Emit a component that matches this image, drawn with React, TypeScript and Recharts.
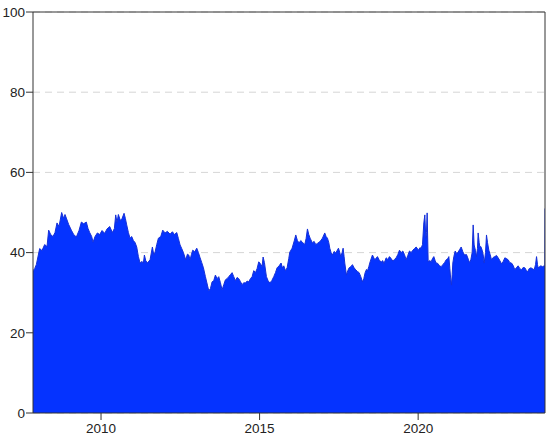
import { AreaChart, Area, XAxis, YAxis, CartesianGrid, ReferenceLine } from 'recharts';

// decimal years and values
const dates = [
  2007.855, 2007.908, 2007.96, 2008.065, 2008.139, 2008.223, 2008.297, 2008.349, 2008.412, 2008.486,
  2008.549, 2008.612, 2008.675, 2008.759, 2008.822, 2008.864, 2008.906, 2008.98, 2009.064, 2009.138,
  2009.222, 2009.306, 2009.38, 2009.453, 2009.537, 2009.59, 2009.643, 2009.706, 2009.748, 2009.811,
  2009.884, 2009.958, 2010.032, 2010.116, 2010.189, 2010.274, 2010.358, 2010.421, 2010.463, 2010.505,
  2010.547, 2010.61, 2010.663, 2010.726, 2010.768, 2010.81, 2010.863, 2010.915, 2010.968, 2011.021,
  2011.073, 2011.126, 2011.178, 2011.231, 2011.294, 2011.336, 2011.368, 2011.41, 2011.462, 2011.546,
  2011.62, 2011.662, 2011.704, 2011.757, 2011.809, 2011.883, 2011.946, 2012.02, 2012.093, 2012.177,
  2012.251, 2012.314, 2012.388, 2012.44, 2012.493, 2012.545, 2012.598, 2012.671, 2012.724, 2012.766,
  2012.808, 2012.85, 2012.892, 2012.955, 2013.019, 2013.071, 2013.124, 2013.176, 2013.229, 2013.292,
  2013.355, 2013.397, 2013.449, 2013.502, 2013.554, 2013.607, 2013.659, 2013.712, 2013.765, 2013.817,
  2013.87, 2013.922, 2013.975, 2014.027, 2014.08, 2014.133, 2014.185, 2014.238, 2014.29, 2014.343,
  2014.395, 2014.448, 2014.501, 2014.553, 2014.606, 2014.658, 2014.711, 2014.764, 2014.816, 2014.869,
  2014.921, 2014.974, 2015.026, 2015.079, 2015.111, 2015.153, 2015.216, 2015.268, 2015.321, 2015.384,
  2015.447, 2015.5, 2015.552, 2015.615, 2015.678, 2015.72, 2015.763, 2015.815, 2015.868, 2015.92,
  2015.952, 2016.026, 2016.099, 2016.141, 2016.193, 2016.246, 2016.298, 2016.351, 2016.424, 2016.467,
  2016.509, 2016.551, 2016.593, 2016.666, 2016.719, 2016.771, 2016.824, 2016.877, 2016.929, 2016.982,
  2017.055, 2017.097, 2017.14, 2017.182, 2017.213, 2017.255, 2017.297, 2017.35, 2017.402, 2017.487,
  2017.529, 2017.56, 2017.602, 2017.634, 2017.665, 2017.686, 2017.739, 2017.781, 2017.823, 2017.876,
  2017.928, 2017.981, 2018.033, 2018.086, 2018.139, 2018.191, 2018.244, 2018.286, 2018.328, 2018.37,
  2018.401, 2018.444, 2018.486, 2018.559, 2018.633, 2018.717, 2018.78, 2018.843, 2018.886, 2018.917,
  2018.959, 2018.991, 2019.043, 2019.096, 2019.149, 2019.201, 2019.254, 2019.306, 2019.359, 2019.411,
  2019.464, 2019.516, 2019.569, 2019.622, 2019.674, 2019.727, 2019.779, 2019.832, 2019.885, 2019.937,
  2020.011, 2020.053, 2020.095, 2020.137, 2020.179, 2020.211, 2020.242, 2020.263, 2020.284, 2020.316,
  2020.368, 2020.41, 2020.452, 2020.494, 2020.536, 2020.568, 2020.621, 2020.673, 2020.726, 2020.778,
  2020.831, 2020.884, 2020.936, 2020.968, 2021.0, 2021.021, 2021.052, 2021.073, 2021.094, 2021.126,
  2021.168, 2021.21, 2021.252, 2021.304, 2021.357, 2021.409, 2021.462, 2021.525, 2021.588, 2021.619,
  2021.661, 2021.703, 2021.735, 2021.766, 2021.808, 2021.84, 2021.871, 2021.892, 2021.924, 2021.945,
  2021.977, 2022.019, 2022.05, 2022.082, 2022.124, 2022.155, 2022.187, 2022.229, 2022.271, 2022.313,
  2022.366, 2022.418, 2022.471, 2022.523, 2022.576, 2022.628, 2022.681, 2022.734, 2022.786, 2022.839,
  2022.891, 2022.944, 2022.996, 2023.049, 2023.102, 2023.154, 2023.207, 2023.259, 2023.312, 2023.365,
  2023.417, 2023.449, 2023.501, 2023.554, 2023.606, 2023.659, 2023.701, 2023.733, 2023.764, 2023.785,
  2023.827, 2023.869, 2023.922, 2023.975, 2023.995, 2024.0,
];

const values = [
  35.5, 36, 37, 41, 40.5, 42, 41.5, 45.6, 44.5, 44,
  45, 47.4, 46.5, 50, 48.5, 49.5, 48.6, 47, 45.6, 44.5,
  43.9, 45.5, 47.6, 47.2, 47.6, 46, 45, 44, 42.6, 44,
  44.9, 44.5, 45.5, 44.8, 45.9, 46.5, 45, 46, 49.4, 47.5,
  49.5, 48, 48.5, 49.8, 48.5, 46.9, 45, 43.6, 44, 43,
  42.5, 41.4, 39, 37.4, 37.8, 37.4, 39.4, 38, 37.4, 38.2,
  41.4, 39.5, 40.1, 42, 43.6, 44, 45.6, 44.9, 45.3, 44.6,
  45.2, 44.5, 45, 43.5, 41.9, 41, 40, 38.2, 39.6, 39.4,
  38.2, 39.5, 40.6, 40.2, 41.1, 40, 38.7, 37.5, 36.2, 34,
  31.9, 30.5, 31, 32.7, 33, 34.4, 33.5, 34, 32.5, 30.7,
  32, 33.2, 33.5, 34, 34.5, 35, 34, 33, 33.8, 33.5,
  32.8, 32, 32.5, 32.4, 32.9, 32.7, 33.5, 34, 35.5, 35,
  36, 37.7, 37.2, 36.5, 38.9, 37.5, 34, 33, 32.4, 33,
  34, 35, 36.2, 36.7, 37.4, 36.2, 36.7, 35.5, 36.2, 38.5,
  40.1, 41.1, 43.1, 44.4, 43, 42.4, 43, 42.6, 42, 43.5,
  45.9, 44.5, 43.6, 42.4, 42.8, 42, 42.3, 42.6, 43, 43.6,
  44.9, 44, 43.6, 42.5, 41.1, 40, 39.4, 40.3, 39.9, 41.1,
  40, 39, 40, 41.1, 39, 37.4, 34.4, 35.5, 36.2, 36.5,
  37, 36.2, 35.7, 35.3, 35, 34, 32.7, 33.5, 35, 35.8,
  35.4, 36.5, 37.7, 39.4, 38.2, 39, 38, 37.7, 38, 37.2,
  38, 38.7, 38.3, 39, 38.5, 37.9, 38.3, 38.7, 39.5, 40.6,
  40, 40.4, 39.5, 38.2, 39.3, 40.4, 40, 40.6, 41, 41.4,
  40.6, 41.2, 41.1, 42, 47.4, 49.4, 43.6, 45, 49.9, 37.7,
  38, 37.7, 38.5, 39, 38, 37.4, 37.3, 36.7, 36.5, 37,
  37.5, 38.2, 38.5, 39, 36, 33.9, 31.9, 34.5, 37.4, 39,
  40.4, 39.8, 40, 40.7, 41.4, 40.2, 39.4, 39.5, 38.2, 37.5,
  38.2, 40, 46.9, 41.9, 40.5, 39, 41, 44.9, 42.5, 41.4,
  41.5, 40.6, 39.5, 37.4, 40, 44.4, 42.5, 40.6, 39.5, 38.2,
  38.8, 39, 39.3, 38.7, 38, 37.2, 37.8, 38.7, 38.5, 38.2,
  37.5, 37.4, 36.8, 35.7, 36.3, 36.7, 36, 35.7, 36.3, 36.2,
  35.5, 35.2, 36, 36.2, 36, 35.7, 37, 39, 37, 36.2,
  36.5, 36.7, 36.5, 36.7, 36.7, 51,
];

const xTicks = [2010, 2015, 2020];
const yTicks = [0, 20, 40, 60, 80, 100];

const data = dates.map((t, i) => ({ t, v: values[i] }));

const tickStyle = { fill: '#222', fontSize: 13.5, fontFamily: 'Liberation Sans, Arial, sans-serif' };

export default function App() {
  return (
    <div style={{ position: 'absolute', left: 0, top: 0, background: '#fff' }}>
      <AreaChart width={550} height={440} data={data} margin={{ top: 12, right: 5, bottom: 0, left: 0 }}>
        <CartesianGrid vertical={false} stroke="#d6d6d6" strokeDasharray="7 5" />
        <XAxis
          type="number"
          dataKey="t"
          domain={[2007.855, 2024]}
          allowDataOverflow
          ticks={xTicks}
          tick={tickStyle}
          tickSize={7}
          tickMargin={3}
          height={27}
          stroke="#333"
        />
        <YAxis
          domain={[0, 100]}
          ticks={yTicks}
          tick={tickStyle}
          tickSize={7}
          tickMargin={1}
          width={33}
          stroke="#333"
        />
        <Area
          type="linear"
          dataKey="v"
          stroke="#1530d8"
          strokeWidth={1}
          fill="#0533ff"
          fillOpacity={1}
          isAnimationActive={false}
        />
        <ReferenceLine y={100} stroke="#333" />
        <ReferenceLine x={2024} stroke="#333" />
      </AreaChart>
    </div>
  );
}
